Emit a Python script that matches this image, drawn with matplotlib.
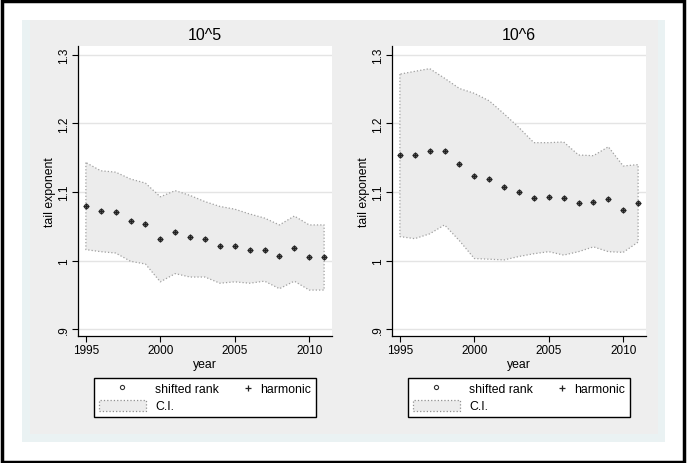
import matplotlib
matplotlib.use("Agg")
import matplotlib.pyplot as plt
from matplotlib.patches import Rectangle, Patch
from matplotlib.lines import Line2D
from matplotlib.legend_handler import HandlerBase

plt.rcParams['font.family'] = ['Liberation Sans', 'DejaVu Sans']

years = list(range(1995, 2012))

# 10^5 panel
est_5 = [1.080, 1.073, 1.071, 1.058, 1.053, 1.031, 1.042, 1.035, 1.032,
         1.022, 1.022, 1.016, 1.016, 1.006, 1.019, 1.005, 1.005]
ci_hi_5 = [1.143, 1.131, 1.129, 1.119, 1.113, 1.093, 1.102, 1.095, 1.086,
           1.079, 1.075, 1.068, 1.062, 1.052, 1.065, 1.052, 1.052]
ci_lo_5 = [1.016, 1.013, 1.011, 0.999, 0.995, 0.969, 0.981, 0.976, 0.976,
           0.967, 0.969, 0.967, 0.970, 0.959, 0.970, 0.957, 0.957]

# 10^6 panel
est_6 = [1.154, 1.154, 1.160, 1.160, 1.141, 1.124, 1.119, 1.108, 1.100,
         1.091, 1.093, 1.091, 1.084, 1.086, 1.090, 1.074, 1.084]
ci_hi_6 = [1.272, 1.276, 1.280, 1.266, 1.251, 1.244, 1.233, 1.214, 1.194,
           1.172, 1.172, 1.173, 1.154, 1.153, 1.166, 1.138, 1.140]
ci_lo_6 = [1.035, 1.032, 1.039, 1.052, 1.029, 1.003, 1.002, 1.001, 1.006,
           1.010, 1.013, 1.008, 1.013, 1.020, 1.013, 1.012, 1.027]

panels = [
    ("10^5", est_5, ci_lo_5, ci_hi_5, 78),
    ("10^6", est_6, ci_lo_6, ci_hi_6, 392),
]

yticks = [0.9, 1.0, 1.1, 1.2, 1.3]
ytick_labels = [".9", "1", "1.1", "1.2", "1.3"]
xticks = [1995, 2000, 2005, 2010]

W, H = 687, 464
fig = plt.figure(figsize=(W / 100, H / 100), dpi=100)
fig.patch.set_facecolor('white')


def px_rect(x0, y0, x1, y1, **kw):
    # rectangle given in pixel coords measured from top-left
    return Rectangle((x0 / W, 1 - y1 / H), (x1 - x0) / W, (y1 - y0) / H,
                     transform=fig.transFigure, **kw)


class RightMarker(HandlerBase):
    # stata puts the "+" key right next to its label
    def create_artists(self, legend, orig_handle, xdescent, ydescent,
                       width, height, fontsize, trans):
        x = -xdescent + width - 0.25 * fontsize
        y = -ydescent + height / 2
        m = Line2D([x], [y], linestyle='none', marker=orig_handle.get_marker(),
                   markersize=orig_handle.get_markersize(),
                   color=orig_handle.get_color(),
                   markeredgewidth=orig_handle.get_markeredgewidth())
        m.set_transform(trans)
        return [m]


fig.patches.append(px_rect(22, 21, 665, 443, facecolor='#eaf2f3', edgecolor='none', zorder=-2))
fig.patches.append(px_rect(30, 21, 658, 435, facecolor='#eeeeee', edgecolor='none', zorder=-1))
fig.patches.append(px_rect(1.5, 1.5, 684, 462.5, facecolor='none', edgecolor='black',
                           linewidth=2.5, zorder=10))

tick_fs = 8.5
for title, est, lo, hi, left_px in panels:
    ax = fig.add_axes([left_px / W, 1 - 337 / H, 254 / W, 290 / H])
    ax.set_zorder(2)
    ax.set_facecolor('white')

    ax.fill_between(years, lo, hi, facecolor='#ececec', edgecolor='#a0a0a0',
                    linestyle=':', linewidth=0.9, zorder=1)
    ax.plot(years, est, linestyle='none', marker='o', markersize=3.0,
            markerfacecolor='#888888', markeredgecolor='#333333', markeredgewidth=0.8, zorder=3)
    ax.plot(years, est, linestyle='none', marker='+', markersize=4.6,
            color='#222222', markeredgewidth=0.9, zorder=4)

    ax.set_xlim(1994.47, 2011.53)
    ax.set_ylim(0.89, 1.313)
    ax.set_yticks(yticks)
    ax.set_yticklabels(ytick_labels, rotation=90, va='center', fontsize=tick_fs)
    ax.set_xticks(xticks)
    ax.set_xticklabels([str(x) for x in xticks], fontsize=tick_fs)
    ax.tick_params(direction='out', length=4, width=0.8, color='black', pad=2)
    ax.grid(True, axis='y', color='#e4e4e4', linewidth=1.0, zorder=0)
    ax.set_axisbelow(True)
    for s in ['top', 'right']:
        ax.spines[s].set_visible(False)
    for s in ['left', 'bottom']:
        ax.spines[s].set_linewidth(0.9)

    ax.set_title(title, fontsize=11.5, pad=5)
    ax.set_xlabel("year", fontsize=8.8, labelpad=1)
    ax.set_ylabel("tail exponent", fontsize=8.8, labelpad=1)

    plus_key = Line2D([], [], linestyle='none', marker='+', markersize=4.6,
                      color='#222222', markeredgewidth=0.9)
    handles = [
        Line2D([], [], linestyle='none', marker='o', markersize=3.0,
               markerfacecolor='none', markeredgecolor='#333333', markeredgewidth=0.8),
        Patch(facecolor='#ececec', edgecolor='#909090', linestyle=':', linewidth=0.9),
        plus_key,
    ]
    labels = ["shifted rank", "C.I.", "harmonic"]
    cx = (left_px + 127) / W
    leg = fig.legend(handles, labels, loc='center', bbox_to_anchor=(cx, 1 - 398.5 / H),
                     ncol=2, fontsize=8.8, frameon=True, fancybox=False,
                     edgecolor='black', framealpha=1, handlelength=3.85, handleheight=1.05,
                     handletextpad=0.74, columnspacing=-1.2, borderpad=0.4,
                     labelspacing=0.35, handler_map={plus_key: RightMarker()})
    leg.get_frame().set_linewidth(1.0)
    leg.set_zorder(5)

fig.savefig("out.png", dpi=100)
